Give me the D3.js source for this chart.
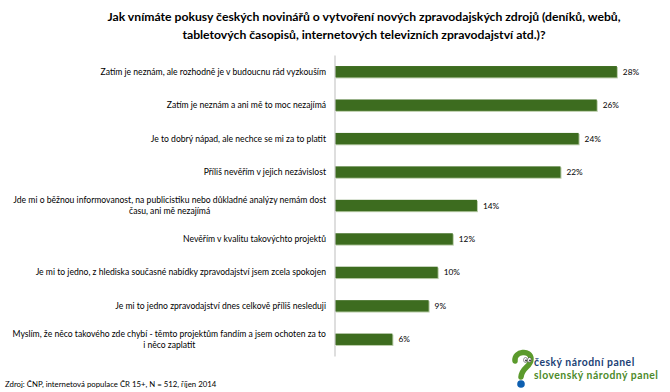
<!DOCTYPE html>
<html>
<head>
<meta charset="utf-8">
<script src="https://cdn.jsdelivr.net/npm/d3@7"></script>
<style>
  html, body { margin: 0; padding: 0; background: #fff; }
  svg { display: block; }
</style>
</head>
<body>
<svg id="chart" width="670" height="392"></svg>
<script>
const titleLines = [
  "Jak vnímáte pokusy českých novinářů o vytvoření nových zpravodajských zdrojů (deníků, webů,",
  "tabletových časopisů, internetových televizních zpravodajství atd.)?"
];
const categories = [
  ["Zatím je neznám, ale rozhodně je v budoucnu rád vyzkouším"],
  ["Zatím je neznám a ani mě to moc nezajímá"],
  ["Je to dobrý nápad, ale nechce se mi za to platit"],
  ["Příliš nevěřím v jejich nezávislost"],
  ["Jde mi o běžnou informovanost, na publicistiku nebo důkladné analýzy nemám dost", "času, ani mě nezajímá"],
  ["Nevěřím v kvalitu takovýchto projektů"],
  ["Je mi to jedno, z hlediska současné nabídky zpravodajství jsem zcela spokojen"],
  ["Je mi to jedno zpravodajství dnes celkově příliš nesleduji"],
  ["Myslím, že něco takového zde chybí - těmto projektům fandím a jsem ochoten za to", "i něco zaplatit"]
];
const values = [28, 26, 24.2, 22.4, 14.1, 11.7, 10.2, 9.3, 5.7];
const valueLabels = ["28%", "26%", "24%", "22%", "14%", "12%", "10%", "9%", "6%"];
const sourceText = "Zdroj: ČNP, internetová populace ČR 15+, N = 512, říjen 2014";
const logoLines = ["český národní panel", "slovenský národný panel"];

const svg = d3.select("#chart");
const FONT = "Lato, 'Open Sans', 'DejaVu Sans', sans-serif";

// Title
svg.append("g").selectAll("text").data(titleLines).join("text")
  .attr("x", 364)
  .attr("y", (d, i) => 21 + i * 18)
  .attr("text-anchor", "middle")
  .attr("font-family", FONT)
  .attr("font-weight", "bold")
  .attr("font-size", 12.2)
  .attr("fill", "#000")
  .text(d => d);

const idx = d3.range(categories.length);
const y = d3.scaleBand().domain(idx).range([55, 356]).paddingInner(0.66).paddingOuter(0.33);
const x = d3.scaleLinear().domain([0, 30]).range([335, 637]);

// bars shadow
const bars = svg.append("g");
bars.selectAll("rect.sh").data(idx).join("rect")
  .attr("class", "sh")
  .attr("x", x(0) + 1)
  .attr("y", i => y(i) + 1)
  .attr("width", i => x(values[i]) - x(0))
  .attr("height", y.bandwidth())
  .attr("fill", "#b9cca8");
bars.selectAll("rect.bar").data(idx).join("rect")
  .attr("class", "bar")
  .attr("x", x(0))
  .attr("y", i => y(i))
  .attr("width", i => x(values[i]) - x(0))
  .attr("height", y.bandwidth())
  .attr("fill", "#3d6c1f");

// axis line
const axis = svg.append("g").attr("transform", `translate(${x(0) - 0.5},0)`)
  .call(d3.axisLeft(y).tickSize(0).tickFormat(""));
axis.select(".domain").attr("stroke", "#c8c8c8").attr("stroke-width", 1.2);

// category labels
const labG = svg.append("g");
idx.forEach(i => {
  const lines = categories[i];
  const cy = y(i) + y.bandwidth() / 2;
  const g = labG.append("g");
  const t = g.selectAll("text").data(lines).join("text")
    .attr("font-family", FONT)
    .attr("font-size", 8.6)
    .attr("fill", "#000")
    .attr("y", (d, k) => cy + 3 + (k - (lines.length - 1) / 2) * 11.5)
    .text(d => d);
  if (lines.length === 1) {
    t.attr("x", 326).attr("text-anchor", "end");
  } else {
    let maxW = 0;
    t.each(function () { maxW = Math.max(maxW, this.getComputedTextLength()); });
    t.attr("x", 326 - maxW / 2).attr("text-anchor", "middle");
  }
});

// value labels
svg.append("g").selectAll("text").data(idx).join("text")
  .attr("x", i => x(values[i]) + 6)
  .attr("y", i => y(i) + y.bandwidth() / 2 + 3)
  .attr("font-family", FONT)
  .attr("font-size", 8.3)
  .attr("fill", "#000")
  .text(i => valueLabels[i]);

// source
svg.append("text")
  .attr("x", 5).attr("y", 387)
  .attr("font-family", FONT)
  .attr("font-size", 7.8)
  .attr("fill", "#000")
  .text(sourceText);

// logo
const logo = svg.append("g");
logo.append("path")
  .attr("d", "M515,361 C514,351 531,349 531,359 C531,367 522,367 521,377")
  .attr("fill", "none").attr("stroke", "#5b9a2c").attr("stroke-width", 5.5).attr("stroke-linecap", "round");
[[525.5, 360], [529.5, 360]].forEach(([ex, ey]) => {
  logo.append("ellipse").attr("cx", ex).attr("cy", ey).attr("rx", 2).attr("ry", 2.5)
    .attr("fill", "#fff").attr("stroke", "#333").attr("stroke-width", 0.5);
  logo.append("circle").attr("cx", ex + 0.5).attr("cy", ey + 0.5).attr("r", 0.9).attr("fill", "#222");
});
logo.append("circle").attr("cx", 521).attr("cy", 384).attr("r", 3.8).attr("fill", "#0e5fb0");
logo.selectAll("text").data(logoLines).join("text")
  .attr("x", 534)
  .attr("y", (d, i) => 366 + i * 12.6)
  .attr("font-family", "Lato, 'DejaVu Sans', sans-serif")
  .attr("font-weight", "bold")
  .attr("font-size", 10.4)
  .attr("letter-spacing", 0.5)
  .attr("fill", (d, i) => i === 0 ? "#1c3f75" : "#4c8a2a")
  .text(d => d);
</script>
</body>
</html>
